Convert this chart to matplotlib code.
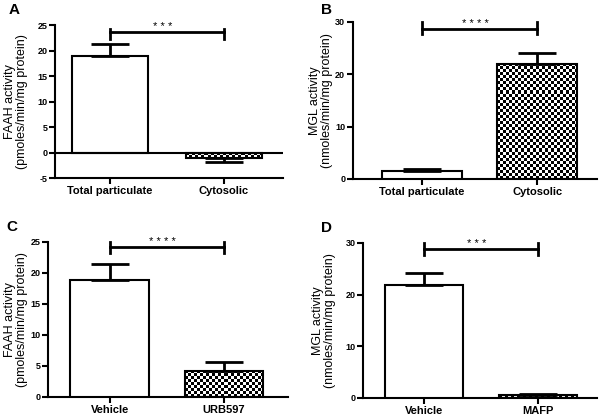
import numpy as np
import matplotlib
matplotlib.use('Agg')
import matplotlib.pyplot as plt

plt.rcParams['font.family'] = ['Liberation Sans', 'DejaVu Sans']

# 数据
cats_ab = ['Total particulate', 'Cytosolic']
cats_c = ['Vehicle', 'URB597']
cats_d = ['Vehicle', 'MAFP']
faah_frac = [18.9, -1.1]
faah_frac_err = [2.4, 0.8]
mgl_frac = [1.5, 22.0]
mgl_frac_err = [0.35, 2.1]
faah_inh = [18.9, 4.2]
faah_inh_err = [2.5, 1.4]
mgl_inh = [21.9, 0.5]
mgl_inh_err = [2.2, 0.2]

fig = plt.figure(figsize=(6, 4.17), dpi=100)

lw = 1.5


def checker(ax, bar):
    # 棋盘格填充, 裁剪到柱子内部
    bb = bar.get_window_extent()
    nx = max(int(round(bb.width / 3.0)), 1)
    ny = max(int(round(bb.height / 3.0)), 1)
    arr = np.add.outer(np.arange(ny), np.arange(nx)) % 2
    x0, y0 = bar.get_x(), bar.get_y()
    x1, y1 = x0 + bar.get_width(), y0 + bar.get_height()
    im = ax.imshow(arr, cmap='gray', extent=(x0, x1, min(y0, y1), max(y0, y1)),
                   interpolation='nearest', aspect='auto', zorder=2)
    im.set_clip_path(bar)


def panel(rect, letter, letter_xy, cats, vals, errs, width, xlim, ylim, yticks,
          ylabel, label_x, sig_y, sig_lo, sig_hi, stars, zero_line=False):
    ax = fig.add_axes(rect)
    ax.set_xlim(xlim)
    ax.set_ylim(ylim)
    x = np.arange(len(cats))
    bars = ax.bar(x, vals, width=width, facecolor='white', edgecolor='black',
                  linewidth=lw, zorder=3)
    bars[1].set_facecolor('none')
    checker(ax, bars[1])
    for i in range(len(vals)):
        if vals[i] >= 0:
            yerr = [[0], [errs[i]]]
        else:
            yerr = [[errs[i]], [0]]
        ax.errorbar(x[i], vals[i], yerr=yerr, fmt='none', ecolor='black',
                    elinewidth=lw + 0.5, capsize=14, capthick=lw + 0.5, zorder=4)
    if zero_line:
        ax.axhline(0, color='black', lw=lw, zorder=5)
    # 显著性标记
    ax.plot([x[0], x[1]], [sig_y, sig_y], color='black', lw=lw + 0.5, clip_on=False)
    ax.plot([x[0], x[0]], [sig_lo, sig_hi], color='black', lw=lw + 0.5, clip_on=False)
    ax.plot([x[1], x[1]], [sig_lo, sig_hi], color='black', lw=lw + 0.5, clip_on=False)
    ax.annotate(stars, xy=(0.5 * (x[0] + x[1]), sig_y), xytext=(-3, 0),
                textcoords='offset points', ha='center', va='bottom',
                fontsize=8, annotation_clip=False)
    ax.set_xticks(x)
    ax.set_xticklabels(cats, fontsize=8, fontweight='bold')
    ax.set_yticks(yticks)
    ax.set_yticklabels([str(t) for t in yticks], fontsize=6.5, fontweight='bold')
    ax.set_ylabel(ylabel, fontsize=9, linespacing=1.0)
    ax.yaxis.set_label_coords(label_x, 0.5)
    ax.spines['top'].set_visible(False)
    ax.spines['right'].set_visible(False)
    ax.spines['left'].set_linewidth(lw)
    ax.spines['bottom'].set_linewidth(lw)
    ax.tick_params(width=lw, length=4, pad=2)
    ax.tick_params(axis='y', pad=1.5)
    ax.set_xlim(xlim)
    ax.set_ylim(ylim)
    fig.text(letter_xy[0] / 600, 1 - letter_xy[1] / 417, letter, fontsize=11,
             fontweight='bold', va='top', ha='left')
    return ax


panel([0.0917, 0.573, 0.38, 0.367], 'A', (9, 3), cats_ab, faah_frac, faah_frac_err,
      0.67, (-0.48, 1.52), (-5, 25), [-5, 0, 5, 10, 15, 20, 25],
      'FAAH activity\n(pmoles/min/mg protein)', -0.12, 23.6, 22.3, 24.2, '* * *',
      zero_line=True)
panel([0.588, 0.571, 0.407, 0.3765], 'B', (321, 3), cats_ab, mgl_frac, mgl_frac_err,
      0.70, (-0.6, 1.52), (0, 30), [0, 10, 20, 30],
      'MGL activity\n(nmoles/min/mg protein)', -0.082, 28.7, 27.7, 30, '* * * *')
panel([0.08, 0.048, 0.40, 0.372], 'C', (6, 220), cats_c, faah_inh, faah_inh_err,
      0.69, (-0.54, 1.56), (0, 25), [0, 5, 10, 15, 20, 25],
      'FAAH activity\n(pmoles/min/mg protein)', -0.082, 24.2, 23.2, 25, '* * * *')
panel([0.605, 0.0456, 0.39, 0.372], 'D', (321, 221), cats_d, mgl_inh, mgl_inh_err,
      0.68, (-0.535, 1.52), (0, 30), [0, 10, 20, 30],
      'MGL activity\n(nmoles/min/mg protein)', -0.115, 28.8, 27.7, 30, '* * *')

fig.savefig('out.png', dpi=100)
